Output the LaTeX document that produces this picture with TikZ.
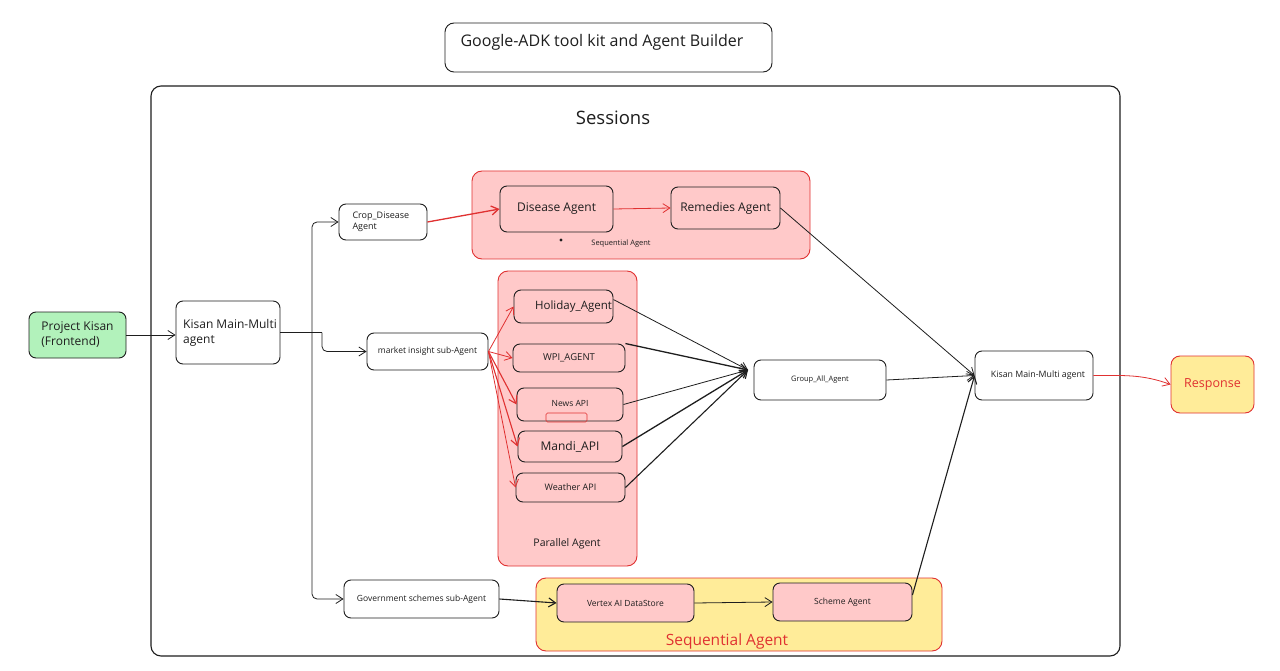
\documentclass[tikz,border=0pt]{standalone}
\usepackage{fontspec}
\setmainfont{Open Sans}
\usetikzlibrary{arrows.meta}
\definecolor{pinkfill}{HTML}{FFC9C9}
\definecolor{redline}{HTML}{E03131}
\definecolor{yellowfill}{HTML}{FFEC99}
\definecolor{greenfill}{HTML}{B2F2BB}
\definecolor{inkc}{HTML}{1E1E1E}
\newcommand{\fs}[2]{\fontsize{#1}{#2}\selectfont}
\tikzset{
  box/.style={draw=inkc, rounded corners=7pt, line width=0.9pt, inner sep=0pt, text=inkc},
  pinkbox/.style={box, fill=pinkfill},
  redgroup/.style={draw=redline, fill=pinkfill, rounded corners=10pt, line width=0.9pt, inner sep=0pt},
  yellowgroup/.style={draw=redline, fill=yellowfill, rounded corners=10pt, line width=0.9pt, inner sep=0pt},
  conn/.style={draw=inkc, line width=0.8pt, -{Straight Barb[length=7pt,width=9pt]}},
  redconn/.style={draw=redline, line width=0.8pt, -{Straight Barb[length=7pt,width=9pt]}},
  plain/.style={draw=inkc, line width=0.8pt},
}
\begin{document}
\begin{tikzpicture}[x=1pt,y=-1pt]
\useasboundingbox (0,0) rectangle (1280,671);
\fill[white] (0,0) rectangle (1280,671);

% title
\node[box, minimum width=327pt, minimum height=49pt, rounded corners=9pt] (title) at (608.5,47.5) {};
\node[text=inkc, font=\fs{16}{19}] (titletext) at (602,42) {Google-ADK tool kit and Agent Builder};

% sessions container
\node[draw=inkc, line width=1.1pt, rounded corners=10pt, minimum width=969pt, minimum height=570pt, inner sep=0pt] (sessions) at (635.5,371) {};
\node[text=inkc, font=\fs{18.5}{22}] (sessionstext) at (613,118) {Sessions};

% groups
\node[redgroup, minimum width=338pt, minimum height=88pt] (seqred) at (641,215) {};
\node[redgroup, minimum width=139pt, minimum height=295pt] (par) at (567.5,418.5) {};
\node[yellowgroup, minimum width=406pt, minimum height=73pt] (seqy) at (739,614.5) {};
\node[text=inkc, font=\fs{7.5}{9}] (seqredtext) at (621,244) {Sequential Agent};
\node[text=inkc, font=\fs{10.5}{13}] (partext) at (567,544) {Parallel Agent};
\node[text=redline, font=\fs{15.5}{18}] (seqytext) at (727,641) {Sequential Agent};
\fill[inkc] (561,240) circle (1.6pt);

% nodes
\node[box, fill=greenfill, minimum width=97pt, minimum height=46pt, align=left, font=\fs{12}{15}] (pk) at (77.5,335) {Project Kisan\\(Frontend)};
\node[box, fill=white, minimum width=104pt, minimum height=63pt, align=left, font=\fs{12}{15}] (kmain) at (228,332.5) {\hspace*{4pt}Kisan Main-Multi\\\hspace*{4pt}agent\phantom{Main-Multi}};
\node[box, fill=white, minimum width=88pt, minimum height=36pt, align=left, font=\fs{9}{11}] (crop) at (383,222) {Crop\_Disease\\Agent\phantom{\_Disease}};
\node[pinkbox, minimum width=113pt, minimum height=46pt, font=\fs{12}{14}] (dis) at (556.5,209) {Disease Agent};
\node[pinkbox, minimum width=109pt, minimum height=42pt, font=\fs{12}{14}] (rem) at (725.5,208) {Remedies Agent};
\node[box, fill=white, minimum width=121pt, minimum height=37pt, font=\fs{8.5}{10}] (mkt) at (427.5,351.5) {market insight sub-Agent};
\node[pinkbox, minimum width=99pt, minimum height=33pt, font=\fs{11.5}{14}] (hol) at (563.5,306.5) {\hspace{20pt}Holiday\_Agent};
\node[pinkbox, minimum width=112pt, minimum height=28pt, font=\fs{9.5}{12}] (wpi) at (569,358) {WPI\_AGENT};
\node[pinkbox, minimum width=106pt, minimum height=33pt, font=\fs{8.5}{10}] (news) at (570,404.5) {\raisebox{3pt}{News API}};
\draw[draw=redline, line width=0.6pt, rounded corners=1.5pt] (546,413) rectangle (587,422);
\node[pinkbox, minimum width=104pt, minimum height=31pt, font=\fs{12}{14}] (mandi) at (570,446.5) {Mandi\_API};
\node[pinkbox, minimum width=109pt, minimum height=29pt, font=\fs{9}{11}] (weather) at (570.5,487.5) {Weather API};
\node[box, fill=white, minimum width=132pt, minimum height=40pt, font=\fs{7.5}{9}] (group) at (820,380) {Group\_All\_Agent};
\node[box, fill=white, minimum width=118pt, minimum height=49pt, font=\fs{8.8}{10}] (kright) at (1034,375.5) {\raisebox{1pt}{\hspace{8pt}Kisan Main-Multi agent}};
\node[box, draw=redline, fill=yellowfill, rounded corners=9pt, minimum width=83pt, minimum height=57pt, font=\fs{12.5}{15}, text=redline] (resp) at (1212.5,384.5) {Response};
\node[box, fill=white, minimum width=155pt, minimum height=38pt, font=\fs{8.5}{10}] (gov) at (421.5,599) {Government schemes sub-Agent};
\node[pinkbox, minimum width=137pt, minimum height=38pt, font=\fs{8.5}{10}] (vertex) at (625.5,603) {Vertex AI DataStore};
\node[pinkbox, minimum width=139pt, minimum height=38pt, font=\fs{8.5}{10}] (scheme) at (842.5,602) {Scheme Agent};

% helper coordinates
\coordinate (fork) at (312,332.5);
\coordinate (fork2) at (322,332.5);
\coordinate (conv) at (748,370);

% connectors
\draw[conn] (pk.east) -- (kmain.west |- pk.east);
\draw[plain] (kmain.east) -- (fork2);
\draw[conn, rounded corners=5pt] (fork) |- (crop.west);
\draw[conn, rounded corners=5pt] (fork2) |- (mkt.west);
\draw[conn, rounded corners=5pt] (fork) |- (gov.west);

\draw[redconn, line width=1.3pt] (crop.east) -- (dis.west);
\draw[redconn] (dis.east) -- (rem.west);
\draw[conn] (rem.east) -- (kright.west);

\draw[redconn] (mkt.east) -- (hol.west);
\draw[redconn] (mkt.east) -- (wpi.west);
\draw[redconn, line width=1.1pt] (mkt.east) -- (news.west);
\draw[redconn, line width=1.1pt] (mkt.east) -- (mandi.west);
\draw[redconn] (mkt.east) -- (weather.west);

\draw[conn] (hol.north east) ++(0,10) -- (conv);
\draw[conn, line width=1.3pt] (wpi.north east) -- (conv);
\draw[conn] (news.east) -- (conv);
\draw[conn, line width=1.3pt] (mandi.east) -- (conv);
\draw[conn, line width=1.1pt] (weather.east) -- (conv);

\draw[conn] (group.east) -- (kright.west);
\draw[conn, line width=1.1pt] (scheme.east) ++(0,-7) -- (kright.west);
\draw[redconn] (kright.east) to[out=0,in=160] (resp.west);

\draw[conn, line width=1.1pt] (gov.east) -- (vertex.west);
\draw[conn] (vertex.east) -- (scheme.west);
\end{tikzpicture}
\end{document}
